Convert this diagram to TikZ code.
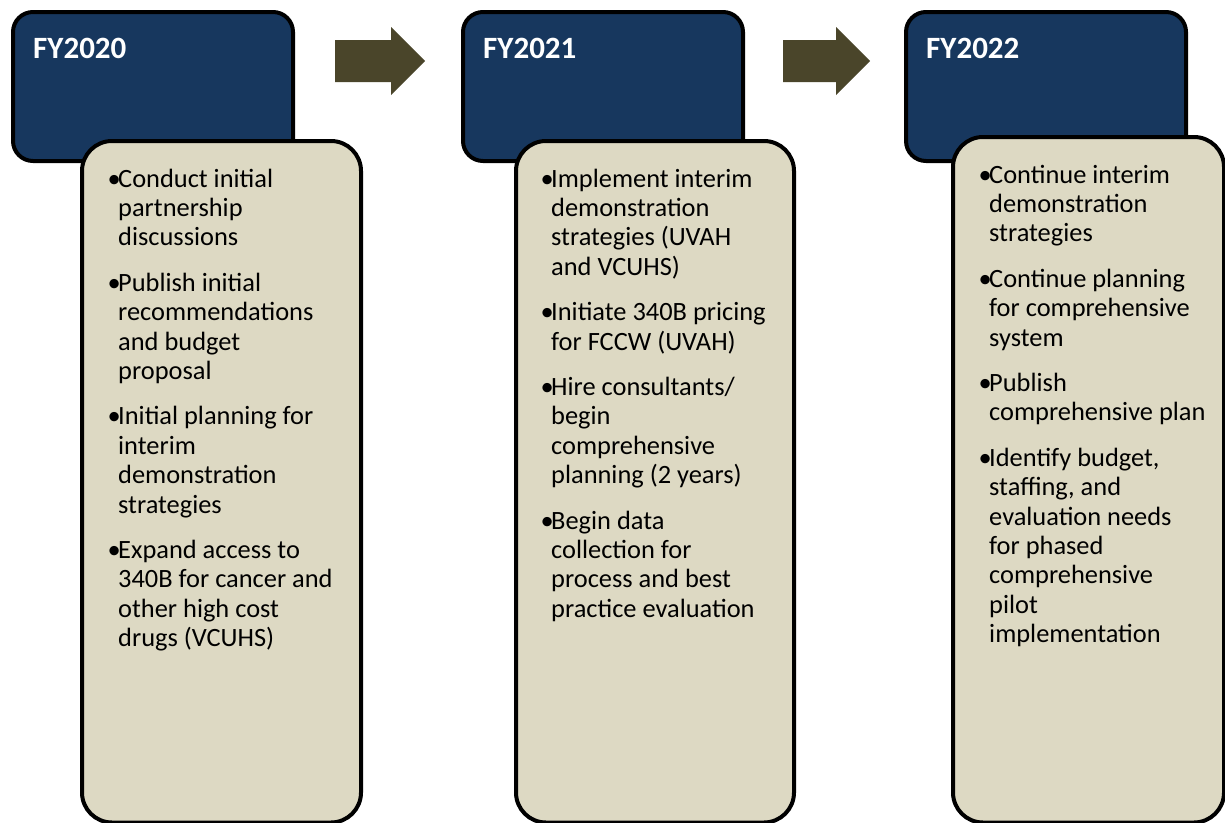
\documentclass[tikz,border=0pt]{standalone}
\usepackage{fontspec}
\setmainfont{Carlito}
\definecolor{yearblue}{HTML}{17375E}
\definecolor{notebeige}{HTML}{DDD9C3}
\definecolor{arrowolive}{HTML}{4A452A}
\newlength\bulind
\setlength\bulind{10.5pt}
% one bullet point with a hanging indent; lines are broken by hand with \nl
\newcommand\nl{\newline}
\newcommand\bpoint[1]{\par\hangindent=\bulind\hangafter=1\noindent\makebox[\bulind][l]{•}#1\par}
\newcommand\notelist[1]{\parbox[t]{260pt}{\fontsize{26.4}{29.4}\selectfont\raggedright\setlength\parskip{16pt}#1}}
\tikzset{
  yearbox/.style={draw=black, line width=4pt, fill=yearblue, rounded corners=20pt,
    minimum width=280pt, minimum height=149pt, inner sep=0pt, outer sep=0pt},
  notebox/.style={draw=black, line width=4pt, fill=notebeige, rounded corners=30pt,
    inner sep=0pt, outer sep=0pt},
  yeartitle/.style={anchor=base west, inner sep=0pt, text=white,
    font=\fontsize{31}{36}\selectfont\bfseries},
  notetext/.style={anchor=base west, inner sep=0pt, text=black},
  steparrow/.style={fill=arrowolive, draw=none}
}
\begin{document}
\begin{tikzpicture}[x=1pt, y=-1pt]
\useasboundingbox (0,0) rectangle (1225,822);
\clip (0,0) rectangle (1225,822);

% year header boxes
\node[yearbox] (y20) at (153,86.5) {};
\node[yearbox] (y21) at (603,86.5) {};
\node[yearbox] (y22) at (1046,86.5) {};

% activity boxes overlapping the headers
\node[notebox, minimum width=279pt, minimum height=681.5pt] (n20) at (221.5,481.75) {};
\node[notebox, minimum width=278pt, minimum height=681.5pt] (n21) at (655,481.75) {};
\node[notebox, minimum width=271pt, minimum height=685.5pt] (n22) at (1088.5,479.75) {};

% headers
\node[yeartitle] (t20) at (33,58) {FY2020};
\node[yeartitle] (t21) at (483,58) {FY2021};
\node[yeartitle] (t22) at (926,58) {FY2022};

% activities
\node[notetext] (l20) at (107.5,187) {\notelist{%
  \bpoint{Conduct initial\nl partnership\nl discussions}
  \bpoint{Publish initial\nl recommendations\nl and budget\nl proposal}
  \bpoint{Initial planning for\nl interim\nl demonstration\nl strategies}
  \bpoint{Expand access to\nl 340B for cancer and\nl other high cost\nl drugs (VCUHS)}}};
\node[notetext] (l21) at (540.5,187) {\notelist{%
  \bpoint{Implement interim\nl demonstration\nl strategies (UVAH\nl and VCUHS)}
  \bpoint{Initiate 340B pricing\nl for FCCW (UVAH)}
  \bpoint{Hire consultants/\nl begin\nl comprehensive\nl planning (2 years)}
  \bpoint{Begin data\nl collection for\nl process and best\nl practice evaluation}}};
\node[notetext] (l22) at (978.5,183) {\notelist{%
  \bpoint{Continue interim\nl demonstration\nl strategies}
  \bpoint{Continue planning\nl for comprehensive\nl system}
  \bpoint{Publish\nl comprehensive plan}
  \bpoint{Identify budget,\nl staffing, and\nl evaluation needs\nl for phased\nl comprehensive\nl pilot\nl implementation}}};

% block arrows between the years
\fill[steparrow] (335,40) -- (391,40) -- (391,27) -- (425,61) -- (391,95) -- (391,82) -- (335,82) -- cycle;
\fill[steparrow] (783,40) -- (836,40) -- (836,27) -- (870,61) -- (836,95) -- (836,82) -- (783,82) -- cycle;
\end{tikzpicture}
\end{document}
